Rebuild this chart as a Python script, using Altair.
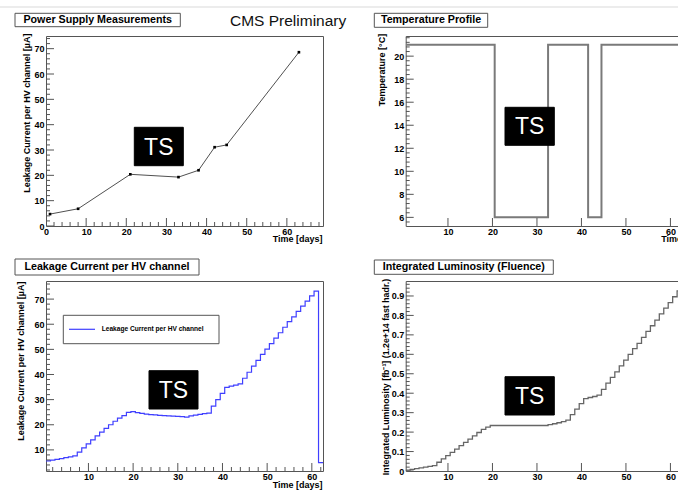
import altair as alt
import pandas as pd

FONT = "Liberation Sans"
FRAME = "#555555"
H = 190
W_LEFT = 277
W_RIGHT = 307

# ---------------- data ----------------
# Power supply measurements (points)
ps_days = [1, 8, 21, 33, 38, 42, 45, 63]
ps_current = [4.7, 6.8, 20.4, 19.3, 22.0, 31.1, 32.0, 68.6]

# daily bins
bin_days = list(range(1, 63))

temperature = [21, 21, 21, 21, 21, 21, 21, 21, 21, 21,
               21, 21, 21, 21, 21, 21, 21, 21, 21, 21,
               6, 6, 6, 6, 6, 6, 6, 6, 6, 6,
               6, 6, 21, 21, 21, 21, 21, 21, 21, 21,
               21, 6, 6, 6, 21, 21, 21, 21, 21, 21,
               21, 21, 21, 21, 21, 21, 21, 21, 21, 21,
               21, 21]

leakage = [5.6, 5.9, 6.2, 6.5, 6.9, 7.2, 7.6, 9.1, 10.8, 12.4,
           14.0, 15.6, 17.1, 18.6, 20.0, 21.4, 22.6, 23.6, 24.9, 25.2,
           24.8, 24.5, 24.2, 24.0, 23.9, 23.7, 23.6, 23.5, 23.4, 23.3,
           23.2, 23.0, 23.5, 23.8, 24.1, 24.4, 24.6, 27.4, 30.0, 32.5,
           34.9, 35.4, 35.8, 36.3, 38.5, 40.9, 43.3, 45.6, 48.0, 50.1,
           52.3, 54.5, 56.6, 58.8, 61.0, 62.9, 65.1, 67.2, 69.2, 71.3,
           73.2, 4.9]

luminosity = [0.004, 0.008, 0.012, 0.016, 0.020, 0.024, 0.028, 0.045, 0.062, 0.079,
              0.096, 0.113, 0.130, 0.147, 0.164, 0.181, 0.198, 0.214, 0.226, 0.234,
              0.234, 0.234, 0.234, 0.234, 0.234, 0.234, 0.234, 0.234, 0.234, 0.234,
              0.234, 0.234, 0.238, 0.243, 0.248, 0.254, 0.262, 0.290, 0.318, 0.346,
              0.372, 0.378, 0.383, 0.390, 0.420, 0.452, 0.481, 0.510, 0.541, 0.570,
              0.600, 0.629, 0.656, 0.687, 0.718, 0.747, 0.776, 0.808, 0.838, 0.866,
              0.896, 0.926]

# tick labels
p1_xlabels = [0, 10, 20, 30, 40, 50, 60]
p1_ylabels = [0, 10, 20, 30, 40, 50, 60, 70]
p2_xlabels = [10, 20, 30, 40, 50, 60]
p2_ylabels = [6, 8, 10, 12, 14, 16, 18, 20]
p3_xlabels = [10, 20, 30, 40, 50, 60]
p3_ylabels = [10, 20, 30, 40, 50, 60, 70]
p4_xlabels = [10, 20, 30, 40, 50, 60]
p4_ylabels = [0, 0.1, 0.2, 0.3, 0.4, 0.5, 0.6, 0.7, 0.8, 0.9]

# minor tick positions
p1_xminor = [v for v in range(2, 70, 2) if v % 10]
p1_yminor = [v for v in range(2, 76, 2) if v % 10]
p2_yminor = [round(5.6 + 0.4 * i, 1) for i in range(41) if (round(5.6 + 0.4 * i, 1) % 2)]
p3_xminor = [v for v in range(2, 63, 2) if v % 10]
p3_yminor = [v for v in range(2, 78, 2) if v % 10]
p4_yminor = [round(0.02 * i, 2) for i in range(1, 49) if i % 5]

p1_xdom, p1_ydom = [0, 69], [0, 75]
p2_xdom, p2_ydom = [0.5, 69.5], [5.25, 21.75]
p3_xdom, p3_ydom = [0.5, 62.5], [1.6, 77.2]
p4_xdom, p4_ydom = [0.5, 69.5], [0, 0.977]

ONE = [{"k": 1}]


def sc(dom):
    return alt.Scale(domain=dom, nice=False, zero=False)


def x_axis(values, title, tx, ty, align, fmt="d"):
    return alt.Axis(values=values, format=fmt, ticks=False, tickSize=0, domain=False, grid=False,
                    labelFont=FONT, labelFontSize=9, labelFontWeight="bold", labelColor="black",
                    labelPadding=1.5, labelOverlap=False, labelFlush=False,
                    title=title, titleFont=FONT, titleFontSize=9, titleFontWeight="bold",
                    titleColor="black", titleX=tx, titleY=ty, titleAlign=align,
                    titleBaseline="alphabetic", titleAngle=0)


def x_axis_notitle(values, fmt="d"):
    return alt.Axis(values=values, format=fmt, ticks=False, tickSize=0, domain=False, grid=False,
                    labelFont=FONT, labelFontSize=9, labelFontWeight="bold", labelColor="black",
                    labelPadding=1.5, labelOverlap=False, labelFlush=False, title=None)


def y_axis(values, title, tx, ty, fs=9, fmt="d"):
    return alt.Axis(values=values, format=fmt, ticks=False, tickSize=0, domain=False, grid=False,
                    labelFont=FONT, labelFontSize=9, labelFontWeight="bold", labelColor="black",
                    labelPadding=2, labelOverlap=False, labelFlush=False,
                    title=title, titleFont=FONT, titleFontSize=fs, titleFontWeight="bold",
                    titleColor="black", titleX=tx, titleY=ty, titleAlign="right",
                    titleBaseline="middle", titleAngle=270)


def tick_layers(xdom, ydom, xax, yax, xmaj, xmin, ymaj, ymin):
    layers = []
    for vals, ln in ((xmaj, 8), (xmin, 4)):
        if vals:
            layers.append(alt.Chart(pd.DataFrame({"t": vals})).mark_rule(
                color=FRAME, strokeWidth=1, clip=True).encode(
                x=alt.X("t:Q", scale=sc(xdom), axis=xax),
                y=alt.value(H), y2=alt.value(H - ln)))
    for vals, ln in ((ymaj, 8), (ymin, 4)):
        if vals:
            layers.append(alt.Chart(pd.DataFrame({"t": vals})).mark_rule(
                color=FRAME, strokeWidth=1, clip=True).encode(
                y=alt.Y("t:Q", scale=sc(ydom), axis=yax),
                x=alt.value(0), x2=alt.value(ln)))
    return layers


def box(x0, x1, y0, y1, fill="white", stroke=FRAME):
    return alt.Chart(alt.Data(values=ONE)).mark_rect(
        fill=fill, stroke=stroke, strokeWidth=1).encode(
        x=alt.value(x0), x2=alt.value(x1), y=alt.value(y0), y2=alt.value(y1))


def label(x, y, s, fs, weight="bold", color="black", align="center"):
    return alt.Chart(alt.Data(values=ONE)).mark_text(
        font=FONT, fontSize=fs, fontWeight=weight, color=color, align=align,
        baseline="middle").encode(x=alt.value(x), y=alt.value(y), text=alt.value(s))


def ts(x0, x1, y0, y1):
    return [box(x0, x1, y0, y1, fill="black", stroke="black"),
            label((x0 + x1) / 2, (y0 + y1) / 2 + 1, "TS", 23, weight="normal", color="white")]


def step_frame(days, vals):
    edges = [d - 0.5 for d in days] + [days[-1] + 0.5]
    v = list(vals) + [vals[-1]]
    return pd.DataFrame({"x": edges, "y": v})


# ---------------- panel 1 ----------------
p1_xax = x_axis(p1_xlabels, "Time [days]", 276, 15, "right")
p1_yax = y_axis(p1_ylabels, "Leakage Current per HV channel [µA]", -19.8, -3)
df1 = pd.DataFrame({"day": ps_days, "current": ps_current})
p1_line = alt.Chart(df1).mark_line(color="#505050", strokeWidth=1, clip=True).encode(
    x=alt.X("day:Q", scale=sc(p1_xdom), axis=p1_xax),
    y=alt.Y("current:Q", scale=sc(p1_ydom), axis=p1_yax))
p1_pts = alt.Chart(df1).mark_square(size=7, color="black", opacity=1).encode(
    x=alt.X("day:Q", scale=sc(p1_xdom), axis=p1_xax),
    y=alt.Y("current:Q", scale=sc(p1_ydom), axis=p1_yax))
topline = alt.Chart(alt.Data(values=ONE)).mark_rule(color="#d9d9d9", strokeWidth=1).encode(
    x=alt.value(-46), x2=alt.value(632), y=alt.value(-29))
p1 = alt.layer(
    p1_line, p1_pts,
    *tick_layers(p1_xdom, p1_ydom, p1_xax, p1_yax, p1_xlabels, p1_xminor, p1_ylabels, p1_yminor),
    topline,
    label(184, -15, "CMS Preliminary", 15.5, weight="normal", color="#111111", align="left"),
    box(-31, 134.3, -22.7, -9.3),
    label(51.7, -16, "Power Supply Measurements", 10.7),
    *ts(88.3, 137.3, 91.3, 129.7),
).properties(width=W_LEFT, height=H)

# ---------------- panel 2 ----------------
p2_xax = x_axis(p2_xlabels, "Time [days]", 255, 15.5, "left")
p2_yax = y_axis(p2_ylabels, "Temperature [°C]", -24, -2.7)
df2 = step_frame(bin_days, temperature)
p2_line = alt.Chart(df2).mark_line(interpolate="step-after", color="#7a7a7a",
                                   strokeWidth=2, clip=True).encode(
    x=alt.X("x:Q", scale=sc(p2_xdom), axis=p2_xax),
    y=alt.Y("y:Q", scale=sc(p2_ydom), axis=p2_yax))
p2 = alt.layer(
    p2_line,
    *tick_layers(p2_xdom, p2_ydom, p2_xax, p2_yax, p2_xlabels, [], p2_ylabels, p2_yminor),
    box(-31.4, 82, -22.7, -8.7),
    label(25.3, -15.7, "Temperature Profile", 10.7),
    *ts(99.3, 148.6, 71.3, 109.3),
).properties(width=W_RIGHT, height=H)

# ---------------- panel 3 ----------------
p3_xax = x_axis(p3_xlabels, "Time [days]", 276, 16, "right")
p3_yax = y_axis(p3_ylabels, "Leakage Current per HV channel [µA]", -25.5, 0)
df3 = step_frame(bin_days, leakage)
p3_line = alt.Chart(df3).mark_line(interpolate="step-after", color="#3f3fff",
                                   strokeWidth=1.2, clip=True).encode(
    x=alt.X("x:Q", scale=sc(p3_xdom), axis=p3_xax),
    y=alt.Y("y:Q", scale=sc(p3_ydom), axis=p3_yax))
legend_line = alt.Chart(alt.Data(values=ONE)).mark_rule(color="#3f3fff", strokeWidth=1.2).encode(
    x=alt.value(23), x2=alt.value(49), y=alt.value(48.3))
p3 = alt.layer(
    p3_line,
    *tick_layers(p3_xdom, p3_ydom, p3_xax, p3_yax, p3_xlabels, p3_xminor, p3_ylabels, p3_yminor),
    box(17.3, 173, 34.3, 62.7),
    legend_line,
    label(55.7, 48.3, "Leakage Current per HV channel", 6.6, align="left"),
    box(-31, 153, -22, -6),
    label(61, -14, "Leakage Current per HV channel", 10.7),
    *ts(103, 152, 89.7, 128),
).properties(width=W_LEFT, height=H)

# ---------------- panel 4 ----------------
p4_xax = x_axis_notitle(p4_xlabels)
p4_yax = y_axis(p4_ylabels, "Integrated Luminosity [fb⁻¹] (1.2e+14 fast hadr.)", -20.7, -2.7,
                fs=8.8, fmt="~g")
df4 = step_frame(bin_days, luminosity)
p4_line = alt.Chart(df4).mark_line(interpolate="step-after", color="#666666",
                                   strokeWidth=1.3, clip=True).encode(
    x=alt.X("x:Q", scale=sc(p4_xdom), axis=p4_xax),
    y=alt.Y("y:Q", scale=sc(p4_ydom), axis=p4_yax))
p4 = alt.layer(
    p4_line,
    *tick_layers(p4_xdom, p4_ydom, p4_xax, p4_yax, p4_xlabels, [], p4_ylabels, p4_yminor),
    box(-31.4, 147.6, -21, -6.7),
    label(58.1, -13.9, "Integrated Luminosity (Fluence)", 10.7),
    *ts(99.3, 148.6, 95.7, 134),
).properties(width=W_RIGHT, height=H)

chart = alt.concat(
    p1, p2, p3, p4, columns=2, spacing={"row": 55, "column": 82.7}, bounds="flush"
).properties(
    padding={"left": 46, "top": 36, "right": 632, "bottom": 454},
    autosize=alt.AutoSizeParams(type="none"),
    background="white",
).configure_view(stroke=FRAME, strokeWidth=1)

chart.save("out.html", embed_options={"renderer": "svg", "actions": False})
